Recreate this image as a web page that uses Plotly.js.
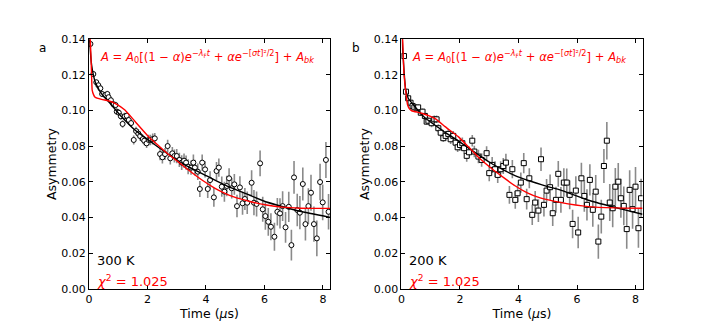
<!DOCTYPE html>
<html>
<head>
<meta charset="utf-8">
<script src="https://cdn.plot.ly/plotly-3.0.1.min.js"></script>
<style>
  html, body { margin: 0; padding: 0; background: #fff; }
  #chart { width: 714px; height: 325px; }
</style>
</head>
<body>
<div id="chart"></div>
<script>
// panel a : 300 K  (time in µs, asymmetry, error)
const tA = [0.05,0.15,0.25,0.32,0.39,0.45,0.56,0.63,0.67,0.75,0.84,0.91,0.95,1.02,1.09,1.15,1.22,1.29,1.36,1.44,
  1.53,1.61,1.69,1.75,1.84,1.89,1.97,2.04,2.1,2.18,2.25,2.43,2.51,2.6,2.69,2.78,2.85,2.92,3.0,3.09,
  3.17,3.25,3.32,3.39,3.49,3.57,3.62,3.72,3.79,3.87,3.97,4.06,4.14,4.27,4.36,4.44,4.54,4.63,4.71,4.79,
  4.88,4.97,5.06,5.16,5.25,5.33,5.41,5.56,5.64,5.73,5.85,5.94,6.03,6.13,6.22,6.34,6.44,6.53,6.62,6.72,
  6.83,6.92,7.01,7.12,7.21,7.31,7.4,7.5,7.59,7.69,7.79,7.9,7.99,8.1,8.19];
const yA = [0.1374,0.1205,0.1159,0.1142,0.1125,0.1093,0.1088,0.1093,0.1075,0.1058,0.1035,0.1031,0.0994,0.0988,0.0968,0.0925,0.0968,0.0971,0.0947,0.093,
  0.0835,0.0885,0.087,0.0857,0.084,0.0831,0.0816,0.0835,0.0835,0.084,0.0844,0.0756,0.0738,0.0756,0.0801,0.0732,0.076,0.0745,0.0745,0.0723,
  0.0708,0.0719,0.0708,0.0685,0.068,0.0708,0.068,0.0657,0.056,0.0708,0.067,0.056,0.061,0.0513,0.0661,0.068,0.0573,0.0545,0.0577,0.062,
  0.0564,0.0586,0.0464,0.0569,0.048,0.0504,0.0483,0.0595,0.0483,0.0476,0.0704,0.0446,0.0408,0.0376,0.0348,0.0292,0.0432,0.0423,0.0464,0.0345,
  0.046,0.0245,0.0625,0.0442,0.0427,0.0588,0.0363,0.0464,0.0539,0.0363,0.0283,0.0599,0.0485,0.0723,0.0432];
const eA = [0.0015,0.0015,0.0014,0.0015,0.0016,0.0015,0.0018,0.0018,0.0017,0.0018,0.0019,0.0018,0.0018,0.002,0.002,0.0021,0.002,0.002,0.0021,0.002,
  0.0025,0.0024,0.0025,0.0026,0.0025,0.0025,0.0026,0.003,0.003,0.0031,0.003,0.0035,0.0035,0.0034,0.0036,0.0035,0.0035,0.0036,0.004,0.004,
  0.0041,0.004,0.004,0.0042,0.004,0.0045,0.0044,0.0046,0.0045,0.0045,0.0046,0.005,0.005,0.0052,0.005,0.0051,0.0057,0.0056,0.0058,0.0057,
  0.0057,0.0058,0.0063,0.0063,0.0064,0.0062,0.0063,0.007,0.0071,0.007,0.0072,0.007,0.0077,0.0078,0.0076,0.0078,0.0077,0.0085,0.0084,0.0086,
  0.0085,0.0086,0.0092,0.0091,0.0093,0.0092,0.0092,0.01,0.0101,0.0099,0.01,0.0102,0.01,0.0101,0.01];

// panel a fits
const fitTA = [0,0.03,0.09,0.15,0.21,0.3,0.38,0.5,0.72,1.06,1.57,2.03,2.71,3.39,4.08,4.65,5.5,6.07,7.21,8.24];
const blackA = [0.15,0.138,0.1256,0.12,0.1162,0.113,0.1106,0.108,0.1041,0.0975,0.0891,0.0835,0.0755,0.0685,0.0629,0.0582,0.0525,0.0487,0.0435,0.0401];
const redTA = [0,0.05,0.08,0.11,0.16,0.21,0.43,0.66,0.89,1.23,1.57,2.03,2.4,2.71,3.05,3.39,3.85,4.31,4.65,4.93,5.5,6.07,6.6,7.21,8.24];
const redA = [0.16,0.138,0.125,0.1115,0.1088,0.1075,0.1063,0.1055,0.1041,0.1003,0.094,0.0855,0.08,0.0755,0.0713,0.0668,0.0612,0.0564,0.0536,0.0517,0.049,0.047,0.0458,0.0452,0.0451];

// panel b : 200 K
const tB = [0.085,0.154,0.23,0.31,0.38,0.44,0.52,0.57,0.66,0.72,0.8,0.86,0.92,1.03,1.12,1.2,1.26,1.34,1.43,1.51,
  1.6,1.68,1.77,1.85,1.92,2.0,2.08,2.14,2.23,2.31,2.42,2.49,2.63,2.74,2.91,3.0,3.1,3.2,3.29,3.39,
  3.48,3.57,3.69,3.79,3.89,3.97,4.08,4.18,4.28,4.37,4.47,4.57,4.68,4.77,4.87,4.96,5.08,5.17,5.28,5.36,
  5.45,5.55,5.65,5.75,5.85,5.96,6.04,6.15,6.25,6.34,6.44,6.54,6.64,6.73,6.83,6.92,7.02,7.12,7.22,7.31,
  7.41,7.5,7.6,7.7,7.8,7.9,8.0,8.1,8.19];
const yB = [0.1306,0.1106,0.1069,0.1044,0.1026,0.1018,0.1013,0.1018,0.0988,0.0994,0.097,0.0938,0.0943,0.0929,0.0951,0.0951,0.0901,0.0876,0.0845,0.0858,
  0.0869,0.0839,0.0858,0.082,0.0794,0.0807,0.0817,0.0789,0.0746,0.0766,0.0831,0.077,0.0742,0.0723,0.0761,0.0649,0.0695,0.0671,0.0639,0.0671,
  0.0689,0.0708,0.0527,0.0671,0.0499,0.0536,0.0596,0.0705,0.0503,0.062,0.0415,0.0484,0.0439,0.0727,0.0471,0.0551,0.057,0.0424,0.0499,0.0645,
  0.0499,0.0596,0.0596,0.0527,0.0364,0.0551,0.0316,0.062,0.0521,0.0471,0.0611,0.0443,0.0545,0.0265,0.0405,0.0689,0.0831,0.0484,0.0452,0.0573,
  0.0601,0.0508,0.0465,0.0335,0.0555,0.0447,0.0573,0.034,0.0508];
const eB = [0.0015,0.0015,0.0016,0.0015,0.0014,0.0015,0.0018,0.0018,0.0019,0.0018,0.0017,0.0018,0.0018,0.0022,0.0022,0.0021,0.0022,0.0023,0.0022,0.0027,
  0.0027,0.0026,0.0028,0.0027,0.0027,0.0032,0.0032,0.0031,0.0033,0.0032,0.0032,0.0032,0.0038,0.0038,0.0039,0.0045,0.0045,0.0044,0.0046,0.0045,
  0.0045,0.005,0.005,0.0051,0.005,0.0049,0.0057,0.0057,0.0058,0.0056,0.0057,0.0065,0.0064,0.0066,0.0065,0.0065,0.0072,0.0071,0.0073,0.0072,
  0.0072,0.008,0.0079,0.0081,0.008,0.008,0.0088,0.0087,0.0089,0.0088,0.0088,0.0095,0.0094,0.0096,0.0095,0.0095,0.0105,0.0104,0.0106,0.0105,
  0.0105,0.011,0.0109,0.0111,0.011,0.011,0.0111,0.011,0.011];

// panel b fits
const fitTB = [0,0.04,0.085,0.14,0.23,0.46,0.8,1.26,1.49,1.94,2.63,3.08,3.88,4.97,5.42,6.39,7.53,8.24];
const blackB = [0.15,0.135,0.1228,0.112,0.1069,0.1022,0.096,0.0905,0.0878,0.083,0.0752,0.0703,0.0635,0.0575,0.0555,0.0497,0.0447,0.0418];
const redTB = [0,0.05,0.085,0.14,0.21,0.28,0.35,0.69,1.15,1.49,1.94,2.28,2.63,3.08,3.54,3.88,4.3,4.74,5.42,6.39,7.3,8.24];
const redB = [0.16,0.135,0.1209,0.1115,0.1031,0.1008,0.0999,0.0985,0.0955,0.091,0.0854,0.0798,0.0738,0.0675,0.0618,0.0578,0.0538,0.051,0.0485,0.0461,0.0454,0.0452];

const font = 'DejaVu Sans, sans-serif';
const grey = '#8a8a8a';

function dataTrace(t, y, e, sym, xa, ya) {
  return {
    x: t, y: y, xaxis: xa, yaxis: ya,
    mode: 'markers', type: 'scatter',
    error_y: { type: 'data', array: e, visible: true, color: grey, thickness: 1.6, width: 0 },
    marker: { symbol: sym, size: 5, color: 'white', line: { color: 'black', width: 1 } },
    showlegend: false
  };
}
function fitTrace(t, y, col, xa, ya) {
  return {
    x: t, y: y, xaxis: xa, yaxis: ya,
    mode: 'lines', type: 'scatter',
    line: { color: col, width: 1.4, shape: 'spline', smoothing: 0.4 },
    showlegend: false
  };
}

const traces = [
  dataTrace(tA, yA, eA, 'circle', 'x', 'y'),
  fitTrace(fitTA, blackA, 'black', 'x', 'y'),
  fitTrace(redTA, redA, 'red', 'x', 'y'),
  dataTrace(tB, yB, eB, 'square', 'x2', 'y2'),
  fitTrace(fitTB, blackB, 'black', 'x2', 'y2'),
  fitTrace(redTB, redB, 'red', 'x2', 'y2')
];

const xaxisBase = {
  range: [0, 8.24], dtick: 2, tick0: 0,
  ticks: 'inside', ticklen: 4, tickcolor: 'black', mirror: 'ticks',
  showline: true, linecolor: 'black', linewidth: 1,
  showgrid: false, zeroline: false,
  tickfont: { family: font, size: 11, color: 'black' },
  title: { text: 'Time (<i>μ</i>s)', font: { family: font, size: 12.5, color: 'black' }, standoff: 2 }
};
const yaxisBase = {
  range: [0, 0.14], dtick: 0.02, tick0: 0, tickformat: '.2f',
  ticks: 'inside', ticklen: 4, tickcolor: 'black', mirror: 'ticks',
  showline: true, linecolor: 'black', linewidth: 1,
  showgrid: false, zeroline: false,
  tickfont: { family: font, size: 11, color: 'black' },
  title: { text: 'Asymmetry', font: { family: font, size: 12.5, color: 'black' }, standoff: 1 },
  domain: [0.1114, 0.8791]
};

const formula = '<i>A</i> = <i>A</i><sub>0</sub>[(1 − <i>α</i>)<i>e</i><sup>−<i>λ</i><sub>F</sub><i>t</i></sup> + <i>αe</i><sup>−[<i>σt</i>]²/2</sup>] + <i>A</i><sub><i>bk</i></sub>';

function notes(xa, ya, temp) {
  return [
    { xref: xa, yref: ya, x: 0.3, y: 0.1302, text: formula, showarrow: false, xanchor: 'left', yanchor: 'middle',
      font: { family: font, size: 11.6, color: 'red' } },
    { xref: xa, yref: ya, x: 0.2, y: 0.0158, text: temp, showarrow: false, xanchor: 'left', yanchor: 'middle',
      font: { family: font, size: 13, color: 'black' } },
    { xref: xa, yref: ya, x: 0.2, y: 0.0045, text: '<i>χ</i><sup>2</sup> = 1.025', showarrow: false, xanchor: 'left', yanchor: 'middle',
      font: { family: font, size: 13, color: 'red' } }
  ];
}

const layout = {
  width: 714, height: 325,
  margin: { l: 0, r: 0, t: 0, b: 0 },
  paper_bgcolor: 'white', plot_bgcolor: 'white',
  font: { family: font, color: 'black' },
  xaxis: { ...xaxisBase, domain: [0.1246, 0.4622], anchor: 'y' },
  yaxis: { ...yaxisBase, anchor: 'x' },
  xaxis2: { ...xaxisBase, domain: [0.5623, 0.8999], anchor: 'y2' },
  yaxis2: { ...yaxisBase, anchor: 'x2' },
  annotations: [
    ...notes('x', 'y', '300 K'),
    ...notes('x2', 'y2', '200 K'),
    { xref: 'paper', yref: 'paper', x: 0.0602, y: 0.852, text: 'a', showarrow: false,
      xanchor: 'center', yanchor: 'middle', font: { family: font, size: 12, color: 'black' } },
    { xref: 'paper', yref: 'paper', x: 0.4986, y: 0.852, text: 'b', showarrow: false,
      xanchor: 'center', yanchor: 'middle', font: { family: font, size: 12, color: 'black' } }
  ]
};

Plotly.newPlot('chart', traces, layout, { staticPlot: true });
</script>
</body>
</html>
